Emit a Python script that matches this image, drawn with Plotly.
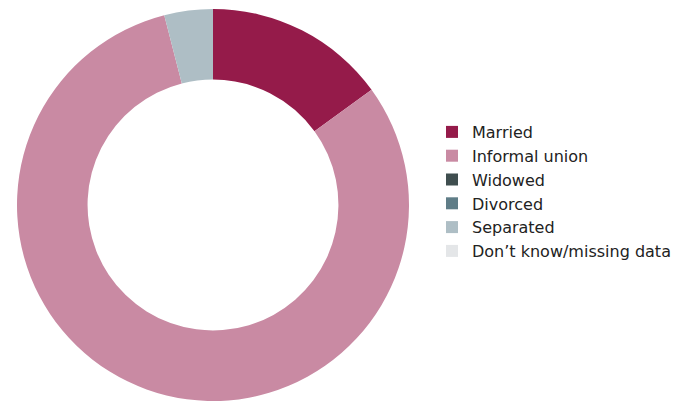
import plotly.graph_objects as go

labels = ["Married", "Informal union", "Widowed", "Divorced", "Separated", "Don\u2019t know/missing data"]
values = [15, 81, 0, 0, 4, 0]
colors = ["#951B4A", "#C98AA3", "#3F4E4F", "#5F7D87", "#AEBEC5", "#E4E6E8"]

# page has an 8px body margin, so the figure is drawn 8px smaller and offset
W, H = 674, 394
cx, cy, r = 205, 197, 196

fig = go.Figure(go.Pie(
    labels=labels, values=values,
    marker=dict(colors=colors, line=dict(width=0)),
    hole=0.64, sort=False, direction="clockwise", rotation=0,
    textinfo="none", hoverinfo="label+percent",
    domain=dict(x=[(cx - r) / W, (cx + r) / W], y=[(H - cy - r) / H, (H - cy + r) / H]),
))
fig.update_layout(
    width=W, height=H,
    margin=dict(l=0, r=0, t=0, b=0),
    paper_bgcolor="white", plot_bgcolor="white",
    font=dict(family="DejaVu Sans, sans-serif", color="#222"),
    legend=dict(x=424 / W, y=1 - 183.5 / H, xanchor="left", yanchor="middle",
                font=dict(size=16, color="#222"), itemwidth=30, tracegroupgap=0),
)
fig.write_html("out.html")
